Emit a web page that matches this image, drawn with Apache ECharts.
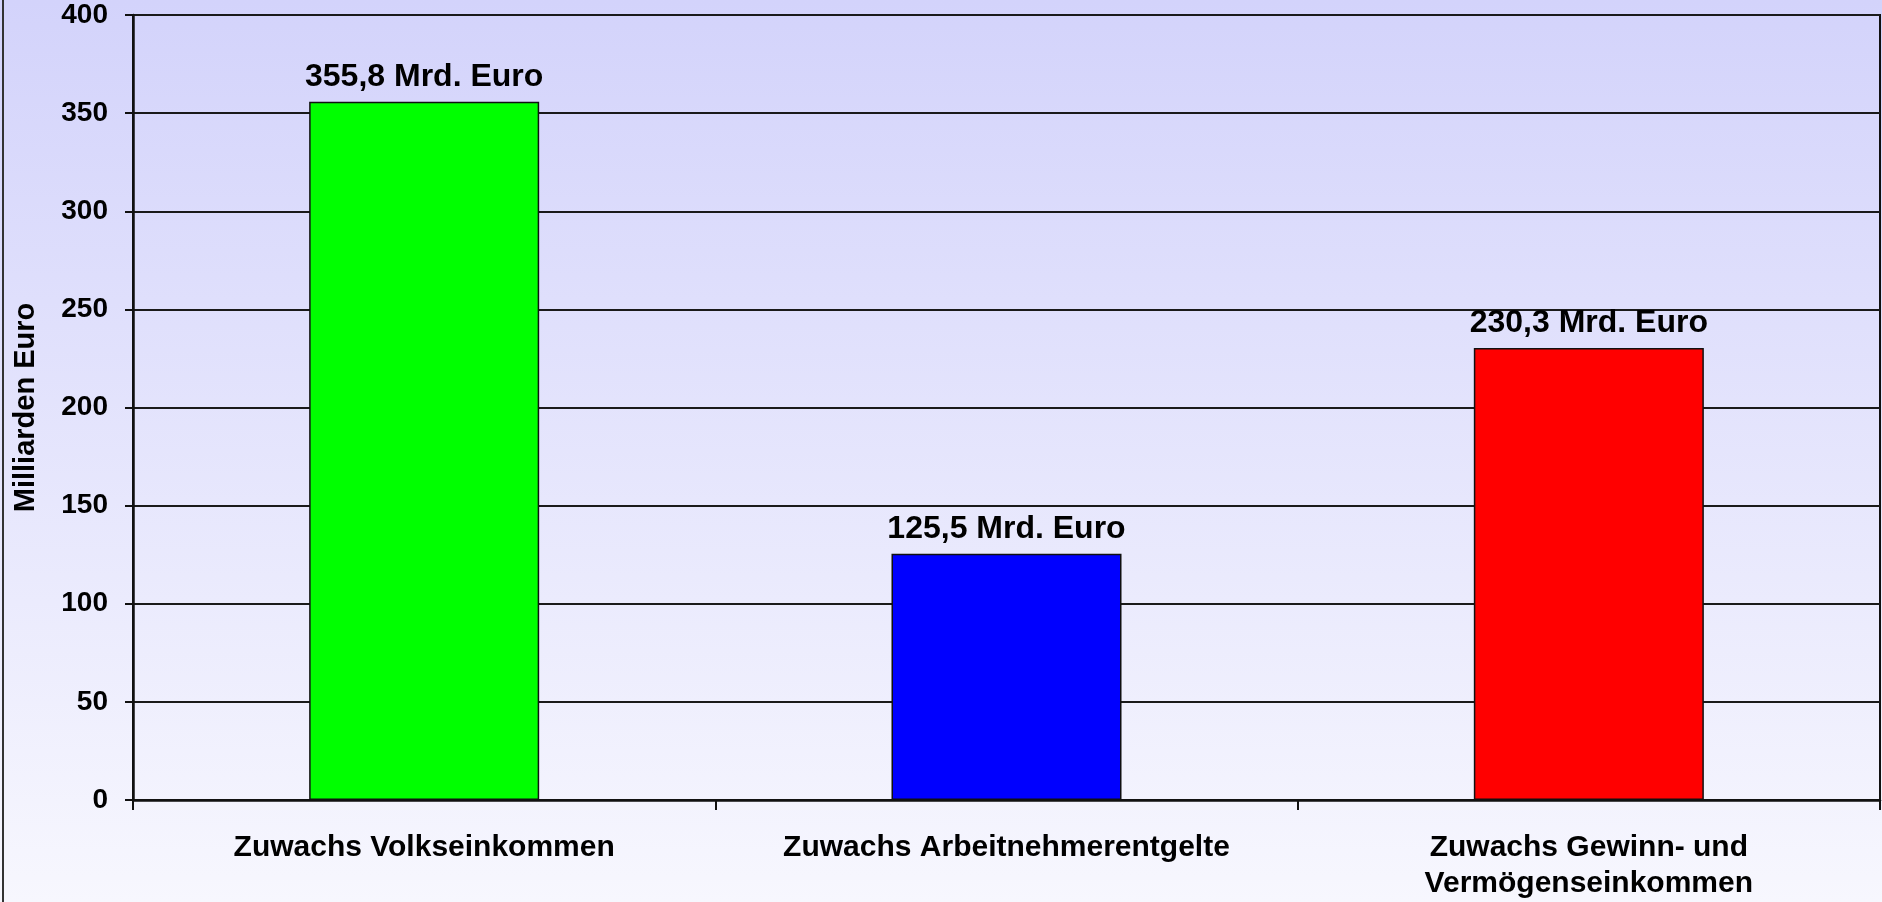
<!DOCTYPE html>
<html>
<head>
<meta charset="utf-8">
<script src="https://cdn.jsdelivr.net/npm/echarts@6/dist/echarts.min.js"></script>
<style>
  html, body { margin: 0; padding: 0; }
  #chart { width: 1882px; height: 902px; }
</style>
</head>
<body>
<div id="chart"></div>
<script>
/* ---------------- DATA ---------------- */

const CATEGORIES = [
    "Zuwachs Volkseinkommen",
    "Zuwachs Arbeitnehmerentgelte",
    "Zuwachs Gewinn- und\nVermögenseinkommen",
];

const VALUES = [355.8, 125.5, 230.3];

const BAR_COLORS = [
    "#00ff00", // green
    "#0000ff", // blue
    "#ff0000", // red
];

const Y_MIN = 0;
const Y_MAX = 400;
const Y_STEP = 50;

/* ---------------- CHART ---------------- */

const FONT = "'Liberation Sans', Arial, sans-serif";
const chart = echarts.init(document.getElementById("chart"));

const option = {
    backgroundColor: new echarts.graphic.LinearGradient(0, 0, 0, 1, [
        { offset: 0, color: "#d3d3fb" },
        { offset: 1, color: "#f7f7fe" },
    ]),
    animation: false,

    graphic: [
        {
            type: "line",
            shape: { x1: 3, y1: 0, x2: 3, y2: 902 },
            style: { stroke: "#333", lineWidth: 2 },
        },
    ],

    grid: {
        left: 133,
        right: 2,
        top: 15,
        bottom: 100,
        show: true,
        borderColor: "#111",
        borderWidth: 2,
        backgroundColor: "transparent",
    },

    xAxis: {
        type: "category",
        data: CATEGORIES,
        boundaryGap: true,
        axisLine: { lineStyle: { color: "#111", width: 2.5 } },
        axisTick: { show: true, length: 10, lineStyle: { color: "#111", width: 2 } },
        axisLabel: {
            margin: 30,
            color: "#000",
            fontFamily: FONT,
            fontWeight: "bold",
            fontSize: 30,
            lineHeight: 36,
            interval: 0,
        },
    },

    yAxis: {
        type: "value",
        min: Y_MIN,
        max: Y_MAX,
        interval: Y_STEP,
        name: "Milliarden Euro",
        nameLocation: "middle",
        nameRotate: 90,
        nameGap: 93,
        nameTextStyle: {
            color: "#000",
            fontFamily: FONT,
            fontWeight: "bold",
            fontSize: 29,
        },
        axisLine: { show: true, lineStyle: { color: "#111", width: 2.5 } },
        axisTick: { show: true, length: 8, lineStyle: { color: "#111", width: 2 } },
        axisLabel: {
            margin: 25,
            color: "#000",
            fontFamily: FONT,
            fontWeight: "bold",
            fontSize: 28,
        },
        splitLine: { lineStyle: { color: "#1a1a1a", width: 2 } },
    },

    series: [
        {
            type: "bar",
            barWidth: "39.5%",
            data: VALUES.map((v, i) => ({
                value: v,
                itemStyle: { color: BAR_COLORS[i] },
            })),
            itemStyle: { borderColor: "#111", borderWidth: 1.5 },
            label: {
                show: true,
                position: "top",
                distance: 9,
                color: "#000",
                fontFamily: FONT,
                fontWeight: "bold",
                fontSize: 32,
                formatter: (p) => p.value.toFixed(1).replace(".", ",") + " Mrd. Euro",
            },
        },
    ],
};

chart.setOption(option);
</script>
</body>
</html>
